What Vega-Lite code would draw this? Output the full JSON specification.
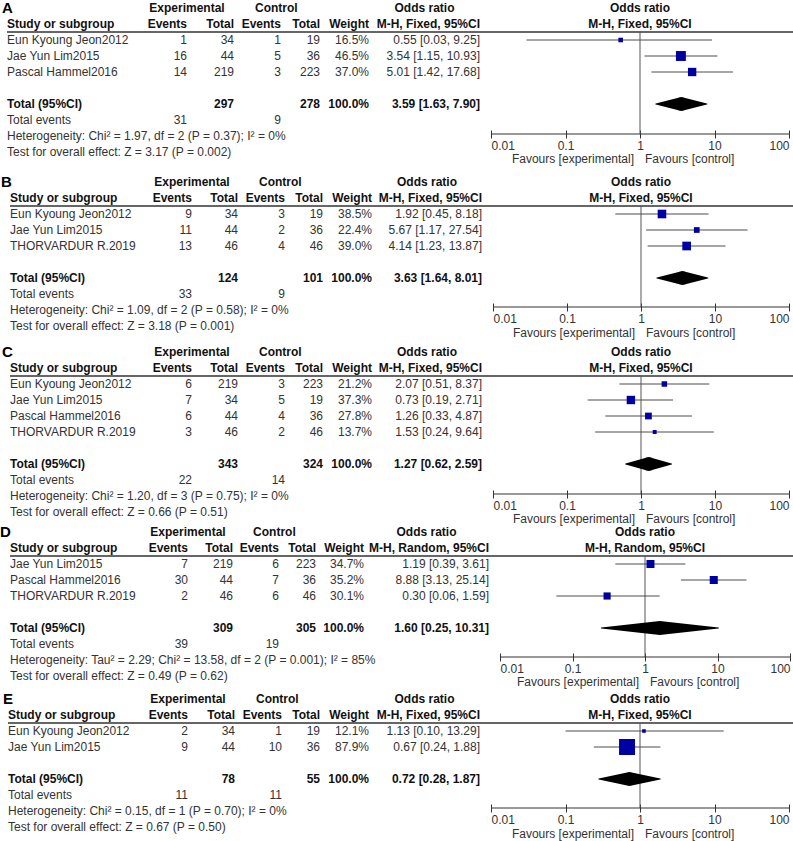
{
"$schema": "https://vega.github.io/schema/vega-lite/v6.json",
"padding": 0,
"spacing": 0,
"bounds": "flush",
"background": "white",
"config": {"view": {"stroke": null}, "text": {"font": "Liberation Sans"}, "axis": {"labelFont": "Liberation Sans"}},
"datasets": {
"cells": [
{"p":"*","r":0,"c":1,"s":"sp","t":"Experimental"},
{"p":"*","r":0,"c":2.9,"s":"sp","t":"Control"},
{"p":"*","r":0,"c":5.5,"s":"sp","t":"Odds ratio"},
{"p":"*","r":1,"c":0,"s":"h","t":"Study or subgroup"},
{"p":"*","r":1,"c":1,"s":"h","t":"Events"},
{"p":"*","r":1,"c":2,"s":"h","t":"Total"},
{"p":"*","r":1,"c":3,"s":"h","t":"Events"},
{"p":"*","r":1,"c":4,"s":"h","t":"Total"},
{"p":"*","r":1,"c":5,"s":"h","t":"Weight"},

{"p":"A","r":0,"c":-1,"s":"L","t":"A"},
{"p":"A","r":1,"c":6,"s":"h","t":"M-H, Fixed, 95%CI"},
{"p":"A","r":2,"c":0,"s":"b","t":"Eun Kyoung Jeon2012"},{"p":"A","r":2,"c":1,"s":"b","t":"1"},{"p":"A","r":2,"c":2,"s":"b","t":"34"},{"p":"A","r":2,"c":3,"s":"b","t":"1"},{"p":"A","r":2,"c":4,"s":"b","t":"19"},{"p":"A","r":2,"c":5,"s":"b","t":"16.5%"},{"p":"A","r":2,"c":6,"s":"b","t":"0.55 [0.03, 9.25]"},
{"p":"A","r":3,"c":0,"s":"b","t":"Jae Yun Lim2015"},{"p":"A","r":3,"c":1,"s":"b","t":"16"},{"p":"A","r":3,"c":2,"s":"b","t":"44"},{"p":"A","r":3,"c":3,"s":"b","t":"5"},{"p":"A","r":3,"c":4,"s":"b","t":"36"},{"p":"A","r":3,"c":5,"s":"b","t":"46.5%"},{"p":"A","r":3,"c":6,"s":"b","t":"3.54 [1.15, 10.93]"},
{"p":"A","r":4,"c":0,"s":"b","t":"Pascal Hammel2016"},{"p":"A","r":4,"c":1,"s":"b","t":"14"},{"p":"A","r":4,"c":2,"s":"b","t":"219"},{"p":"A","r":4,"c":3,"s":"b","t":"3"},{"p":"A","r":4,"c":4,"s":"b","t":"223"},{"p":"A","r":4,"c":5,"s":"b","t":"37.0%"},{"p":"A","r":4,"c":6,"s":"b","t":"5.01 [1.42, 17.68]"},
{"p":"A","r":6,"c":0,"s":"t","t":"Total (95%CI)"},{"p":"A","r":6,"c":2,"s":"t","t":"297"},{"p":"A","r":6,"c":4,"s":"t","t":"278"},{"p":"A","r":6,"c":5,"s":"t","t":"100.0%"},{"p":"A","r":6,"c":6,"s":"t","t":"3.59 [1.63, 7.90]"},
{"p":"A","r":7,"c":0,"s":"b","t":"Total events"},{"p":"A","r":7,"c":1,"s":"b","t":"31"},{"p":"A","r":7,"c":3,"s":"b","t":"9"},
{"p":"A","r":8,"c":0,"s":"b","t":"Heterogeneity: Chi² = 1.97, df = 2 (P = 0.37); I² = 0%"},
{"p":"A","r":9,"c":0,"s":"b","t":"Test for overall effect: Z = 3.17 (P = 0.002)"},

{"p":"B","r":0,"c":-1,"s":"L","t":"B"},
{"p":"B","r":1,"c":6,"s":"h","t":"M-H, Fixed, 95%CI"},
{"p":"B","r":2,"c":0,"s":"b","t":"Eun Kyoung Jeon2012"},{"p":"B","r":2,"c":1,"s":"b","t":"9"},{"p":"B","r":2,"c":2,"s":"b","t":"34"},{"p":"B","r":2,"c":3,"s":"b","t":"3"},{"p":"B","r":2,"c":4,"s":"b","t":"19"},{"p":"B","r":2,"c":5,"s":"b","t":"38.5%"},{"p":"B","r":2,"c":6,"s":"b","t":"1.92 [0.45, 8.18]"},
{"p":"B","r":3,"c":0,"s":"b","t":"Jae Yun Lim2015"},{"p":"B","r":3,"c":1,"s":"b","t":"11"},{"p":"B","r":3,"c":2,"s":"b","t":"44"},{"p":"B","r":3,"c":3,"s":"b","t":"2"},{"p":"B","r":3,"c":4,"s":"b","t":"36"},{"p":"B","r":3,"c":5,"s":"b","t":"22.4%"},{"p":"B","r":3,"c":6,"s":"b","t":"5.67 [1.17, 27.54]"},
{"p":"B","r":4,"c":0,"s":"b","t":"THORVARDUR R.2019"},{"p":"B","r":4,"c":1,"s":"b","t":"13"},{"p":"B","r":4,"c":2,"s":"b","t":"46"},{"p":"B","r":4,"c":3,"s":"b","t":"4"},{"p":"B","r":4,"c":4,"s":"b","t":"46"},{"p":"B","r":4,"c":5,"s":"b","t":"39.0%"},{"p":"B","r":4,"c":6,"s":"b","t":"4.14 [1.23, 13.87]"},
{"p":"B","r":6,"c":0,"s":"t","t":"Total (95%CI)"},{"p":"B","r":6,"c":2,"s":"t","t":"124"},{"p":"B","r":6,"c":4,"s":"t","t":"101"},{"p":"B","r":6,"c":5,"s":"t","t":"100.0%"},{"p":"B","r":6,"c":6,"s":"t","t":"3.63 [1.64, 8.01]"},
{"p":"B","r":7,"c":0,"s":"b","t":"Total events"},{"p":"B","r":7,"c":1,"s":"b","t":"33"},{"p":"B","r":7,"c":3,"s":"b","t":"9"},
{"p":"B","r":8,"c":0,"s":"b","t":"Heterogeneity: Chi² = 1.09, df = 2 (P = 0.58); I² = 0%"},
{"p":"B","r":9,"c":0,"s":"b","t":"Test for overall effect: Z = 3.18 (P = 0.001)"},

{"p":"C","r":0,"c":-1,"s":"L","t":"C"},
{"p":"C","r":1,"c":6,"s":"h","t":"M-H, Fixed, 95%CI"},
{"p":"C","r":2,"c":0,"s":"b","t":"Eun Kyoung Jeon2012"},{"p":"C","r":2,"c":1,"s":"b","t":"6"},{"p":"C","r":2,"c":2,"s":"b","t":"219"},{"p":"C","r":2,"c":3,"s":"b","t":"3"},{"p":"C","r":2,"c":4,"s":"b","t":"223"},{"p":"C","r":2,"c":5,"s":"b","t":"21.2%"},{"p":"C","r":2,"c":6,"s":"b","t":"2.07 [0.51, 8.37]"},
{"p":"C","r":3,"c":0,"s":"b","t":"Jae Yun Lim2015"},{"p":"C","r":3,"c":1,"s":"b","t":"7"},{"p":"C","r":3,"c":2,"s":"b","t":"34"},{"p":"C","r":3,"c":3,"s":"b","t":"5"},{"p":"C","r":3,"c":4,"s":"b","t":"19"},{"p":"C","r":3,"c":5,"s":"b","t":"37.3%"},{"p":"C","r":3,"c":6,"s":"b","t":"0.73 [0.19, 2.71]"},
{"p":"C","r":4,"c":0,"s":"b","t":"Pascal Hammel2016"},{"p":"C","r":4,"c":1,"s":"b","t":"6"},{"p":"C","r":4,"c":2,"s":"b","t":"44"},{"p":"C","r":4,"c":3,"s":"b","t":"4"},{"p":"C","r":4,"c":4,"s":"b","t":"36"},{"p":"C","r":4,"c":5,"s":"b","t":"27.8%"},{"p":"C","r":4,"c":6,"s":"b","t":"1.26 [0.33, 4.87]"},
{"p":"C","r":5,"c":0,"s":"b","t":"THORVARDUR R.2019"},{"p":"C","r":5,"c":1,"s":"b","t":"3"},{"p":"C","r":5,"c":2,"s":"b","t":"46"},{"p":"C","r":5,"c":3,"s":"b","t":"2"},{"p":"C","r":5,"c":4,"s":"b","t":"46"},{"p":"C","r":5,"c":5,"s":"b","t":"13.7%"},{"p":"C","r":5,"c":6,"s":"b","t":"1.53 [0.24, 9.64]"},
{"p":"C","r":7,"c":0,"s":"t","t":"Total (95%CI)"},{"p":"C","r":7,"c":2,"s":"t","t":"343"},{"p":"C","r":7,"c":4,"s":"t","t":"324"},{"p":"C","r":7,"c":5,"s":"t","t":"100.0%"},{"p":"C","r":7,"c":6,"s":"t","t":"1.27 [0.62, 2.59]"},
{"p":"C","r":8,"c":0,"s":"b","t":"Total events"},{"p":"C","r":8,"c":1,"s":"b","t":"22"},{"p":"C","r":8,"c":3,"s":"b","t":"14"},
{"p":"C","r":9,"c":0,"s":"b","t":"Heterogeneity: Chi² = 1.20, df = 3 (P = 0.75); I² = 0%"},
{"p":"C","r":10,"c":0,"s":"b","t":"Test for overall effect: Z = 0.66 (P = 0.51)"},

{"p":"D","r":0,"c":-1,"s":"L","t":"D"},
{"p":"D","r":1,"c":6,"s":"h","t":"M-H, Random, 95%CI"},
{"p":"D","r":2,"c":0,"s":"b","t":"Jae Yun Lim2015"},{"p":"D","r":2,"c":1,"s":"b","t":"7"},{"p":"D","r":2,"c":2,"s":"b","t":"219"},{"p":"D","r":2,"c":3,"s":"b","t":"6"},{"p":"D","r":2,"c":4,"s":"b","t":"223"},{"p":"D","r":2,"c":5,"s":"b","t":"34.7%"},{"p":"D","r":2,"c":6,"s":"b","t":"1.19 [0.39, 3.61]"},
{"p":"D","r":3,"c":0,"s":"b","t":"Pascal Hammel2016"},{"p":"D","r":3,"c":1,"s":"b","t":"30"},{"p":"D","r":3,"c":2,"s":"b","t":"44"},{"p":"D","r":3,"c":3,"s":"b","t":"7"},{"p":"D","r":3,"c":4,"s":"b","t":"36"},{"p":"D","r":3,"c":5,"s":"b","t":"35.2%"},{"p":"D","r":3,"c":6,"s":"b","t":"8.88 [3.13, 25.14]"},
{"p":"D","r":4,"c":0,"s":"b","t":"THORVARDUR R.2019"},{"p":"D","r":4,"c":1,"s":"b","t":"2"},{"p":"D","r":4,"c":2,"s":"b","t":"46"},{"p":"D","r":4,"c":3,"s":"b","t":"6"},{"p":"D","r":4,"c":4,"s":"b","t":"46"},{"p":"D","r":4,"c":5,"s":"b","t":"30.1%"},{"p":"D","r":4,"c":6,"s":"b","t":"0.30 [0.06, 1.59]"},
{"p":"D","r":6,"c":0,"s":"t","t":"Total (95%CI)"},{"p":"D","r":6,"c":2,"s":"t","t":"309"},{"p":"D","r":6,"c":4,"s":"t","t":"305"},{"p":"D","r":6,"c":5,"s":"t","t":"100.0%"},{"p":"D","r":6,"c":6,"s":"t","t":"1.60 [0.25, 10.31]"},
{"p":"D","r":7,"c":0,"s":"b","t":"Total events"},{"p":"D","r":7,"c":1,"s":"b","t":"39"},{"p":"D","r":7,"c":3,"s":"b","t":"19"},
{"p":"D","r":8,"c":0,"s":"b","t":"Heterogeneity: Tau² = 2.29; Chi² = 13.58, df = 2 (P = 0.001); I² = 85%"},
{"p":"D","r":9,"c":0,"s":"b","t":"Test for overall effect: Z = 0.49 (P = 0.62)"},

{"p":"E","r":0,"c":-1,"s":"L","t":"E"},
{"p":"E","r":1,"c":6,"s":"h","t":"M-H, Fixed, 95%CI"},
{"p":"E","r":2,"c":0,"s":"b","t":"Eun Kyoung Jeon2012"},{"p":"E","r":2,"c":1,"s":"b","t":"2"},{"p":"E","r":2,"c":2,"s":"b","t":"34"},{"p":"E","r":2,"c":3,"s":"b","t":"1"},{"p":"E","r":2,"c":4,"s":"b","t":"19"},{"p":"E","r":2,"c":5,"s":"b","t":"12.1%"},{"p":"E","r":2,"c":6,"s":"b","t":"1.13 [0.10, 13.29]"},
{"p":"E","r":3,"c":0,"s":"b","t":"Jae Yun Lim2015"},{"p":"E","r":3,"c":1,"s":"b","t":"9"},{"p":"E","r":3,"c":2,"s":"b","t":"44"},{"p":"E","r":3,"c":3,"s":"b","t":"10"},{"p":"E","r":3,"c":4,"s":"b","t":"36"},{"p":"E","r":3,"c":5,"s":"b","t":"87.9%"},{"p":"E","r":3,"c":6,"s":"b","t":"0.67 [0.24, 1.88]"},
{"p":"E","r":5,"c":0,"s":"t","t":"Total (95%CI)"},{"p":"E","r":5,"c":2,"s":"t","t":"78"},{"p":"E","r":5,"c":4,"s":"t","t":"55"},{"p":"E","r":5,"c":5,"s":"t","t":"100.0%"},{"p":"E","r":5,"c":6,"s":"t","t":"0.72 [0.28, 1.87]"},
{"p":"E","r":6,"c":0,"s":"b","t":"Total events"},{"p":"E","r":6,"c":1,"s":"b","t":"11"},{"p":"E","r":6,"c":3,"s":"b","t":"11"},
{"p":"E","r":7,"c":0,"s":"b","t":"Heterogeneity: Chi² = 0.15, df = 1 (P = 0.70); I² = 0%"},
{"p":"E","r":8,"c":0,"s":"b","t":"Test for overall effect: Z = 0.67 (P = 0.50)"}
],
"fp": [
{"p":"A","r":2,"or":0.55,"lo":0.03,"hi":9.25,"w":16.5},
{"p":"A","r":3,"or":3.54,"lo":1.15,"hi":10.93,"w":46.5},
{"p":"A","r":4,"or":5.01,"lo":1.42,"hi":17.68,"w":37.0},
{"p":"B","r":2,"or":1.92,"lo":0.45,"hi":8.18,"w":38.5},
{"p":"B","r":3,"or":5.67,"lo":1.17,"hi":27.54,"w":22.4},
{"p":"B","r":4,"or":4.14,"lo":1.23,"hi":13.87,"w":39.0},
{"p":"C","r":2,"or":2.07,"lo":0.51,"hi":8.37,"w":21.2},
{"p":"C","r":3,"or":0.73,"lo":0.19,"hi":2.71,"w":37.3},
{"p":"C","r":4,"or":1.26,"lo":0.33,"hi":4.87,"w":27.8},
{"p":"C","r":5,"or":1.53,"lo":0.24,"hi":9.64,"w":13.7},
{"p":"D","r":2,"or":1.19,"lo":0.39,"hi":3.61,"w":34.7},
{"p":"D","r":3,"or":8.88,"lo":3.13,"hi":25.14,"w":35.2},
{"p":"D","r":4,"or":0.30,"lo":0.06,"hi":1.59,"w":30.1},
{"p":"E","r":2,"or":1.13,"lo":0.10,"hi":13.29,"w":12.1},
{"p":"E","r":3,"or":0.67,"lo":0.24,"hi":1.88,"w":87.9}
],
"tot": [
{"p":"A","r":6,"or":3.59,"lo":1.63,"hi":7.90},
{"p":"B","r":6,"or":3.63,"lo":1.64,"hi":8.01},
{"p":"C","r":7,"or":1.27,"lo":0.62,"hi":2.59},
{"p":"D","r":6,"or":1.60,"lo":0.25,"hi":10.31},
{"p":"E","r":5,"or":0.72,"lo":0.28,"hi":1.87}
]
},
"vconcat": [
{
"width": 793, "height": 174,
"resolve": {"scale": {"x": "independent"}},
"layer": [
{
"data": {"name": "cells"},
"transform": [{"filter": "datum.p === 'A' || datum.p === '*'"}],
"encoding": {
"x": {"field": "c", "type": "quantitative", "axis": null, "scale": {"domain": [-1,0,1,2,3,4,5,6,7], "range": [2,7,187,234,281,320,369,480,793], "nice": false, "zero": false}},
"y": {"field": "r", "type": "quantitative", "axis": null, "scale": {"domain": [-0.5, 10.375], "reverse": true, "nice": false, "zero": false}},
"text": {"field": "t"}
},
"layer": [
{"transform": [{"filter": "datum.s === 'L'"}], "mark": {"type": "text", "align": "left", "baseline": "middle", "fontSize": 15, "fontWeight": "bold", "color": "#000"}},
{"transform": [{"filter": "datum.s === 'sp'"}], "mark": {"type": "text", "align": "center", "baseline": "middle", "fontSize": 12, "fontWeight": "bold", "color": "#111"}},
{"transform": [{"filter": "(datum.s === 'h' || datum.s === 't') && datum.c === 0"}], "mark": {"type": "text", "align": "left", "baseline": "middle", "fontSize": 12, "fontWeight": "bold", "color": "#111"}},
{"transform": [{"filter": "(datum.s === 'h' || datum.s === 't') && datum.c > 0"}], "mark": {"type": "text", "align": "right", "baseline": "middle", "fontSize": 12, "fontWeight": "bold", "color": "#111"}},
{"transform": [{"filter": "datum.s === 'b' && datum.c === 0"}], "mark": {"type": "text", "align": "left", "baseline": "middle", "fontSize": 12, "color": "#333"}},
{"transform": [{"filter": "datum.s === 'b' && datum.c > 0"}], "mark": {"type": "text", "align": "right", "baseline": "middle", "fontSize": 12, "color": "#333"}},
{"transform": [{"filter": "datum.s === 'h' && datum.c === 0"}], "mark": {"type": "rule", "color": "#333", "strokeWidth": 1.5}, "encoding": {"x": {"datum": 0, "type": "quantitative", "axis": null}, "x2": {"datum": 7}, "y": {"datum": 1.5, "type": "quantitative", "axis": null}}}
]
},
{
"layer": [
{"data": {"name": "tot"}, "transform": [{"filter": "datum.p === 'A'"}], "mark": {"type": "rule", "color": "#555", "strokeWidth": 1}, "encoding": {"x": {"datum": 1, "type": "quantitative", "title": null}, "y": {"datum": 1.5, "type": "quantitative", "axis": null}, "y2": {"datum": 7.875}}},
{"data": {"name": "tot"}, "transform": [{"filter": "datum.p === 'A'"}], "mark": {"type": "rule", "color": "#333", "strokeWidth": 1}, "encoding": {"x": {"datum": 0.01, "type": "quantitative", "title": null}, "x2": {"datum": 100}, "y": {"datum": 7.875, "type": "quantitative", "axis": null}}},
{"data": {"name": "fp"}, "transform": [{"filter": "datum.p === 'A'"}], "mark": {"type": "rule", "color": "#4d4d4d", "strokeWidth": 1},
 "encoding": {"x": {"field": "lo", "type": "quantitative", "title": null, "scale": {"type": "log", "domain": [0.01, 100], "range": [491, 789], "nice": false},
   "axis": {"orient": "bottom", "offset": -44, "values": [0.01, 0.1, 1, 10, 100], "format": "~g", "labelFlush": true, "labelFontSize": 12, "labelColor": "#333", "labelPadding": 2, "domain": false, "tickSize": 8, "tickColor": "#333", "grid": false, "labelOverlap": false}},
  "x2": {"field": "hi"}, "y": {"field": "r", "type": "quantitative", "axis": null}}},
{"data": {"name": "fp"}, "transform": [{"filter": "datum.p === 'A'"}], "mark": {"type": "point", "shape": "square", "filled": true, "color": "#0000A0", "opacity": 1, "strokeWidth": 0},
 "encoding": {"x": {"field": "or", "type": "quantitative", "title": null}, "y": {"field": "r", "type": "quantitative", "axis": null}, "size": {"field": "w", "type": "quantitative", "legend": null, "scale": {"type": "pow", "exponent": 1.5, "domain": [0, 100], "range": [0, 310]}}}},
{"data": {"name": "tot"}, "transform": [{"filter": "datum.p === 'A'"}, {"fold": ["lo", "or", "hi"], "as": ["k", "v"]}], "mark": {"type": "trail", "color": "#000"},
 "encoding": {"x": {"field": "v", "type": "quantitative", "title": null}, "y": {"field": "r", "type": "quantitative", "axis": null}, "size": {"condition": {"test": "datum.k === 'or'", "value": 14}, "value": 0}}},
{"data": {"name": "cells"}, "transform": [{"filter": "(datum.p === '*' && datum.t === 'Odds ratio') || (datum.p === 'A' && datum.s === 'h')"}], "mark": {"type": "text", "align": "center", "baseline": "middle", "fontSize": 12, "fontWeight": "bold", "color": "#111"},
 "encoding": {"x": {"datum": 1, "type": "quantitative", "title": null}, "y": {"field": "r", "type": "quantitative", "axis": null}, "text": {"field": "t"}}},
{"data": {"name": "tot"}, "transform": [{"filter": "datum.p === 'A'"}], "mark": {"type": "text", "align": "right", "baseline": "middle", "dx": -6, "fontSize": 12, "color": "#333"},
 "encoding": {"x": {"datum": 1, "type": "quantitative", "title": null}, "y": {"datum": 9.44, "type": "quantitative", "axis": null}, "text": {"value": "Favours [experimental]"}}},
{"data": {"name": "tot"}, "transform": [{"filter": "datum.p === 'A'"}], "mark": {"type": "text", "align": "left", "baseline": "middle", "dx": 5, "fontSize": 12, "color": "#333"},
 "encoding": {"x": {"datum": 1, "type": "quantitative", "title": null}, "y": {"datum": 9.44, "type": "quantitative", "axis": null}, "text": {"value": "Favours [control]"}}}
]
}
]
},
{
"width": 793, "height": 170,
"resolve": {"scale": {"x": "independent"}},
"layer": [
{
"data": {"name": "cells"},
"transform": [{"filter": "datum.p === 'B' || datum.p === '*'"}],
"encoding": {
"x": {"field": "c", "type": "quantitative", "axis": null, "scale": {"domain": [-1,0,1,2,3,4,5,6,7], "range": [1,10,192,238,285,323,372,482,793], "nice": false, "zero": false}},
"y": {"field": "r", "type": "quantitative", "axis": null, "scale": {"domain": [-0.5, 10.125], "reverse": true, "nice": false, "zero": false}},
"text": {"field": "t"}
},
"layer": [
{"transform": [{"filter": "datum.s === 'L'"}], "mark": {"type": "text", "align": "left", "baseline": "middle", "fontSize": 15, "fontWeight": "bold", "color": "#000"}},
{"transform": [{"filter": "datum.s === 'sp'"}], "mark": {"type": "text", "align": "center", "baseline": "middle", "fontSize": 12, "fontWeight": "bold", "color": "#111"}},
{"transform": [{"filter": "(datum.s === 'h' || datum.s === 't') && datum.c === 0"}], "mark": {"type": "text", "align": "left", "baseline": "middle", "fontSize": 12, "fontWeight": "bold", "color": "#111"}},
{"transform": [{"filter": "(datum.s === 'h' || datum.s === 't') && datum.c > 0"}], "mark": {"type": "text", "align": "right", "baseline": "middle", "fontSize": 12, "fontWeight": "bold", "color": "#111"}},
{"transform": [{"filter": "datum.s === 'b' && datum.c === 0"}], "mark": {"type": "text", "align": "left", "baseline": "middle", "fontSize": 12, "color": "#333"}},
{"transform": [{"filter": "datum.s === 'b' && datum.c > 0"}], "mark": {"type": "text", "align": "right", "baseline": "middle", "fontSize": 12, "color": "#333"}},
{"transform": [{"filter": "datum.s === 'h' && datum.c === 0"}], "mark": {"type": "rule", "color": "#333", "strokeWidth": 1.5}, "encoding": {"x": {"datum": 0, "type": "quantitative", "axis": null}, "x2": {"datum": 7}, "y": {"datum": 1.5, "type": "quantitative", "axis": null}}}
]
},
{
"layer": [
{"data": {"name": "tot"}, "transform": [{"filter": "datum.p === 'B'"}], "mark": {"type": "rule", "color": "#555", "strokeWidth": 1}, "encoding": {"x": {"datum": 1, "type": "quantitative", "title": null}, "y": {"datum": 1.5, "type": "quantitative", "axis": null}, "y2": {"datum": 7.8125}}},
{"data": {"name": "tot"}, "transform": [{"filter": "datum.p === 'B'"}], "mark": {"type": "rule", "color": "#333", "strokeWidth": 1}, "encoding": {"x": {"datum": 0.01, "type": "quantitative", "title": null}, "x2": {"datum": 100}, "y": {"datum": 7.8125, "type": "quantitative", "axis": null}}},
{"data": {"name": "fp"}, "transform": [{"filter": "datum.p === 'B'"}], "mark": {"type": "rule", "color": "#4d4d4d", "strokeWidth": 1},
 "encoding": {"x": {"field": "lo", "type": "quantitative", "title": null, "scale": {"type": "log", "domain": [0.01, 100], "range": [493, 789], "nice": false},
   "axis": {"orient": "bottom", "offset": -41, "values": [0.01, 0.1, 1, 10, 100], "format": "~g", "labelFlush": true, "labelFontSize": 12, "labelColor": "#333", "labelPadding": 2, "domain": false, "tickSize": 8, "tickColor": "#333", "grid": false, "labelOverlap": false}},
  "x2": {"field": "hi"}, "y": {"field": "r", "type": "quantitative", "axis": null}}},
{"data": {"name": "fp"}, "transform": [{"filter": "datum.p === 'B'"}], "mark": {"type": "point", "shape": "square", "filled": true, "color": "#0000A0", "opacity": 1, "strokeWidth": 0},
 "encoding": {"x": {"field": "or", "type": "quantitative", "title": null}, "y": {"field": "r", "type": "quantitative", "axis": null}, "size": {"field": "w", "type": "quantitative", "legend": null, "scale": {"type": "pow", "exponent": 1.5, "domain": [0, 100], "range": [0, 310]}}}},
{"data": {"name": "tot"}, "transform": [{"filter": "datum.p === 'B'"}, {"fold": ["lo", "or", "hi"], "as": ["k", "v"]}], "mark": {"type": "trail", "color": "#000"},
 "encoding": {"x": {"field": "v", "type": "quantitative", "title": null}, "y": {"field": "r", "type": "quantitative", "axis": null}, "size": {"condition": {"test": "datum.k === 'or'", "value": 14}, "value": 0}}},
{"data": {"name": "cells"}, "transform": [{"filter": "(datum.p === '*' && datum.t === 'Odds ratio') || (datum.p === 'B' && datum.s === 'h')"}], "mark": {"type": "text", "align": "center", "baseline": "middle", "fontSize": 12, "fontWeight": "bold", "color": "#111"},
 "encoding": {"x": {"datum": 1, "type": "quantitative", "title": null}, "y": {"field": "r", "type": "quantitative", "axis": null}, "text": {"field": "t"}}},
{"data": {"name": "tot"}, "transform": [{"filter": "datum.p === 'B'"}], "mark": {"type": "text", "align": "right", "baseline": "middle", "dx": -6, "fontSize": 12, "color": "#333"},
 "encoding": {"x": {"datum": 1, "type": "quantitative", "title": null}, "y": {"datum": 9.44, "type": "quantitative", "axis": null}, "text": {"value": "Favours [experimental]"}}},
{"data": {"name": "tot"}, "transform": [{"filter": "datum.p === 'B'"}], "mark": {"type": "text", "align": "left", "baseline": "middle", "dx": 5, "fontSize": 12, "color": "#333"},
 "encoding": {"x": {"datum": 1, "type": "quantitative", "title": null}, "y": {"datum": 9.44, "type": "quantitative", "axis": null}, "text": {"value": "Favours [control]"}}}
]
}
]
},
{
"width": 793, "height": 180,
"resolve": {"scale": {"x": "independent"}},
"layer": [
{
"data": {"name": "cells"},
"transform": [{"filter": "datum.p === 'C' || datum.p === '*'"}],
"encoding": {
"x": {"field": "c", "type": "quantitative", "axis": null, "scale": {"domain": [-1,0,1,2,3,4,5,6,7], "range": [2,10,192,238,285,323,372,482,793], "nice": false, "zero": false}},
"y": {"field": "r", "type": "quantitative", "axis": null, "scale": {"domain": [-0.5, 10.75], "reverse": true, "nice": false, "zero": false}},
"text": {"field": "t"}
},
"layer": [
{"transform": [{"filter": "datum.s === 'L'"}], "mark": {"type": "text", "align": "left", "baseline": "middle", "fontSize": 15, "fontWeight": "bold", "color": "#000"}},
{"transform": [{"filter": "datum.s === 'sp'"}], "mark": {"type": "text", "align": "center", "baseline": "middle", "fontSize": 12, "fontWeight": "bold", "color": "#111"}},
{"transform": [{"filter": "(datum.s === 'h' || datum.s === 't') && datum.c === 0"}], "mark": {"type": "text", "align": "left", "baseline": "middle", "fontSize": 12, "fontWeight": "bold", "color": "#111"}},
{"transform": [{"filter": "(datum.s === 'h' || datum.s === 't') && datum.c > 0"}], "mark": {"type": "text", "align": "right", "baseline": "middle", "fontSize": 12, "fontWeight": "bold", "color": "#111"}},
{"transform": [{"filter": "datum.s === 'b' && datum.c === 0"}], "mark": {"type": "text", "align": "left", "baseline": "middle", "fontSize": 12, "color": "#333"}},
{"transform": [{"filter": "datum.s === 'b' && datum.c > 0"}], "mark": {"type": "text", "align": "right", "baseline": "middle", "fontSize": 12, "color": "#333"}},
{"transform": [{"filter": "datum.s === 'h' && datum.c === 0"}], "mark": {"type": "rule", "color": "#333", "strokeWidth": 1.5}, "encoding": {"x": {"datum": 0, "type": "quantitative", "axis": null}, "x2": {"datum": 7}, "y": {"datum": 1.5, "type": "quantitative", "axis": null}}}
]
},
{
"layer": [
{"data": {"name": "tot"}, "transform": [{"filter": "datum.p === 'C'"}], "mark": {"type": "rule", "color": "#555", "strokeWidth": 1}, "encoding": {"x": {"datum": 1, "type": "quantitative", "title": null}, "y": {"datum": 1.5, "type": "quantitative", "axis": null}, "y2": {"datum": 8.875}}},
{"data": {"name": "tot"}, "transform": [{"filter": "datum.p === 'C'"}], "mark": {"type": "rule", "color": "#333", "strokeWidth": 1}, "encoding": {"x": {"datum": 0.01, "type": "quantitative", "title": null}, "x2": {"datum": 100}, "y": {"datum": 8.875, "type": "quantitative", "axis": null}}},
{"data": {"name": "fp"}, "transform": [{"filter": "datum.p === 'C'"}], "mark": {"type": "rule", "color": "#4d4d4d", "strokeWidth": 1},
 "encoding": {"x": {"field": "lo", "type": "quantitative", "title": null, "scale": {"type": "log", "domain": [0.01, 100], "range": [493, 789], "nice": false},
   "axis": {"orient": "bottom", "offset": -34, "values": [0.01, 0.1, 1, 10, 100], "format": "~g", "labelFlush": true, "labelFontSize": 12, "labelColor": "#333", "labelPadding": 2, "domain": false, "tickSize": 8, "tickColor": "#333", "grid": false, "labelOverlap": false}},
  "x2": {"field": "hi"}, "y": {"field": "r", "type": "quantitative", "axis": null}}},
{"data": {"name": "fp"}, "transform": [{"filter": "datum.p === 'C'"}], "mark": {"type": "point", "shape": "square", "filled": true, "color": "#0000A0", "opacity": 1, "strokeWidth": 0},
 "encoding": {"x": {"field": "or", "type": "quantitative", "title": null}, "y": {"field": "r", "type": "quantitative", "axis": null}, "size": {"field": "w", "type": "quantitative", "legend": null, "scale": {"type": "pow", "exponent": 1.5, "domain": [0, 100], "range": [0, 310]}}}},
{"data": {"name": "tot"}, "transform": [{"filter": "datum.p === 'C'"}, {"fold": ["lo", "or", "hi"], "as": ["k", "v"]}], "mark": {"type": "trail", "color": "#000"},
 "encoding": {"x": {"field": "v", "type": "quantitative", "title": null}, "y": {"field": "r", "type": "quantitative", "axis": null}, "size": {"condition": {"test": "datum.k === 'or'", "value": 14}, "value": 0}}},
{"data": {"name": "cells"}, "transform": [{"filter": "(datum.p === '*' && datum.t === 'Odds ratio') || (datum.p === 'C' && datum.s === 'h')"}], "mark": {"type": "text", "align": "center", "baseline": "middle", "fontSize": 12, "fontWeight": "bold", "color": "#111"},
 "encoding": {"x": {"datum": 1, "type": "quantitative", "title": null}, "y": {"field": "r", "type": "quantitative", "axis": null}, "text": {"field": "t"}}},
{"data": {"name": "tot"}, "transform": [{"filter": "datum.p === 'C'"}], "mark": {"type": "text", "align": "right", "baseline": "middle", "dx": -6, "fontSize": 12, "color": "#333"},
 "encoding": {"x": {"datum": 1, "type": "quantitative", "title": null}, "y": {"datum": 10.44, "type": "quantitative", "axis": null}, "text": {"value": "Favours [experimental]"}}},
{"data": {"name": "tot"}, "transform": [{"filter": "datum.p === 'C'"}], "mark": {"type": "text", "align": "left", "baseline": "middle", "dx": 5, "fontSize": 12, "color": "#333"},
 "encoding": {"x": {"datum": 1, "type": "quantitative", "title": null}, "y": {"datum": 10.44, "type": "quantitative", "axis": null}, "text": {"value": "Favours [control]"}}}
]
}
]
},
{
"width": 793, "height": 167,
"resolve": {"scale": {"x": "independent"}},
"layer": [
{
"data": {"name": "cells"},
"transform": [{"filter": "datum.p === 'D' || datum.p === '*'"}],
"encoding": {
"x": {"field": "c", "type": "quantitative", "axis": null, "scale": {"domain": [-1,0,1,2,3,4,5,6,7], "range": [0,10,188,233,279,316,364,489,793], "nice": false, "zero": false}},
"y": {"field": "r", "type": "quantitative", "axis": null, "scale": {"domain": [-0.5, 9.9375], "reverse": true, "nice": false, "zero": false}},
"text": {"field": "t"}
},
"layer": [
{"transform": [{"filter": "datum.s === 'L'"}], "mark": {"type": "text", "align": "left", "baseline": "middle", "fontSize": 15, "fontWeight": "bold", "color": "#000"}},
{"transform": [{"filter": "datum.s === 'sp'"}], "mark": {"type": "text", "align": "center", "baseline": "middle", "fontSize": 12, "fontWeight": "bold", "color": "#111"}},
{"transform": [{"filter": "(datum.s === 'h' || datum.s === 't') && datum.c === 0"}], "mark": {"type": "text", "align": "left", "baseline": "middle", "fontSize": 12, "fontWeight": "bold", "color": "#111"}},
{"transform": [{"filter": "(datum.s === 'h' || datum.s === 't') && datum.c > 0"}], "mark": {"type": "text", "align": "right", "baseline": "middle", "fontSize": 12, "fontWeight": "bold", "color": "#111"}},
{"transform": [{"filter": "datum.s === 'b' && datum.c === 0"}], "mark": {"type": "text", "align": "left", "baseline": "middle", "fontSize": 12, "color": "#333"}},
{"transform": [{"filter": "datum.s === 'b' && datum.c > 0"}], "mark": {"type": "text", "align": "right", "baseline": "middle", "fontSize": 12, "color": "#333"}},
{"transform": [{"filter": "datum.s === 'h' && datum.c === 0"}], "mark": {"type": "rule", "color": "#333", "strokeWidth": 1.5}, "encoding": {"x": {"datum": 0, "type": "quantitative", "axis": null}, "x2": {"datum": 7}, "y": {"datum": 1.5, "type": "quantitative", "axis": null}}}
]
},
{
"layer": [
{"data": {"name": "tot"}, "transform": [{"filter": "datum.p === 'D'"}], "mark": {"type": "rule", "color": "#555", "strokeWidth": 1}, "encoding": {"x": {"datum": 1, "type": "quantitative", "title": null}, "y": {"datum": 1.5, "type": "quantitative", "axis": null}, "y2": {"datum": 7.8125}}},
{"data": {"name": "tot"}, "transform": [{"filter": "datum.p === 'D'"}], "mark": {"type": "rule", "color": "#333", "strokeWidth": 1}, "encoding": {"x": {"datum": 0.01, "type": "quantitative", "title": null}, "x2": {"datum": 100}, "y": {"datum": 7.8125, "type": "quantitative", "axis": null}}},
{"data": {"name": "fp"}, "transform": [{"filter": "datum.p === 'D'"}], "mark": {"type": "rule", "color": "#4d4d4d", "strokeWidth": 1},
 "encoding": {"x": {"field": "lo", "type": "quantitative", "title": null, "scale": {"type": "log", "domain": [0.01, 100], "range": [500, 790], "nice": false},
   "axis": {"orient": "bottom", "offset": -38, "values": [0.01, 0.1, 1, 10, 100], "format": "~g", "labelFlush": true, "labelFontSize": 12, "labelColor": "#333", "labelPadding": 2, "domain": false, "tickSize": 8, "tickColor": "#333", "grid": false, "labelOverlap": false}},
  "x2": {"field": "hi"}, "y": {"field": "r", "type": "quantitative", "axis": null}}},
{"data": {"name": "fp"}, "transform": [{"filter": "datum.p === 'D'"}], "mark": {"type": "point", "shape": "square", "filled": true, "color": "#0000A0", "opacity": 1, "strokeWidth": 0},
 "encoding": {"x": {"field": "or", "type": "quantitative", "title": null}, "y": {"field": "r", "type": "quantitative", "axis": null}, "size": {"field": "w", "type": "quantitative", "legend": null, "scale": {"type": "pow", "exponent": 1.5, "domain": [0, 100], "range": [0, 310]}}}},
{"data": {"name": "tot"}, "transform": [{"filter": "datum.p === 'D'"}, {"fold": ["lo", "or", "hi"], "as": ["k", "v"]}], "mark": {"type": "trail", "color": "#000"},
 "encoding": {"x": {"field": "v", "type": "quantitative", "title": null}, "y": {"field": "r", "type": "quantitative", "axis": null}, "size": {"condition": {"test": "datum.k === 'or'", "value": 14}, "value": 0}}},
{"data": {"name": "cells"}, "transform": [{"filter": "(datum.p === '*' && datum.t === 'Odds ratio') || (datum.p === 'D' && datum.s === 'h')"}], "mark": {"type": "text", "align": "center", "baseline": "middle", "fontSize": 12, "fontWeight": "bold", "color": "#111"},
 "encoding": {"x": {"datum": 1, "type": "quantitative", "title": null}, "y": {"field": "r", "type": "quantitative", "axis": null}, "text": {"field": "t"}}},
{"data": {"name": "tot"}, "transform": [{"filter": "datum.p === 'D'"}], "mark": {"type": "text", "align": "right", "baseline": "middle", "dx": -6, "fontSize": 12, "color": "#333"},
 "encoding": {"x": {"datum": 1, "type": "quantitative", "title": null}, "y": {"datum": 9.375, "type": "quantitative", "axis": null}, "text": {"value": "Favours [experimental]"}}},
{"data": {"name": "tot"}, "transform": [{"filter": "datum.p === 'D'"}], "mark": {"type": "text", "align": "left", "baseline": "middle", "dx": 5, "fontSize": 12, "color": "#333"},
 "encoding": {"x": {"datum": 1, "type": "quantitative", "title": null}, "y": {"datum": 9.375, "type": "quantitative", "axis": null}, "text": {"value": "Favours [control]"}}}
]
}
]
},
{
"width": 793, "height": 150,
"resolve": {"scale": {"x": "independent"}},
"layer": [
{
"data": {"name": "cells"},
"transform": [{"filter": "datum.p === 'E' || datum.p === '*'"}],
"encoding": {
"x": {"field": "c", "type": "quantitative", "axis": null, "scale": {"domain": [-1,0,1,2,3,4,5,6,7], "range": [3,8,188,235,282,320,369,480,793], "nice": false, "zero": false}},
"y": {"field": "r", "type": "quantitative", "axis": null, "scale": {"domain": [-0.5, 8.875], "reverse": true, "nice": false, "zero": false}},
"text": {"field": "t"}
},
"layer": [
{"transform": [{"filter": "datum.s === 'L'"}], "mark": {"type": "text", "align": "left", "baseline": "middle", "fontSize": 15, "fontWeight": "bold", "color": "#000"}},
{"transform": [{"filter": "datum.s === 'sp'"}], "mark": {"type": "text", "align": "center", "baseline": "middle", "fontSize": 12, "fontWeight": "bold", "color": "#111"}},
{"transform": [{"filter": "(datum.s === 'h' || datum.s === 't') && datum.c === 0"}], "mark": {"type": "text", "align": "left", "baseline": "middle", "fontSize": 12, "fontWeight": "bold", "color": "#111"}},
{"transform": [{"filter": "(datum.s === 'h' || datum.s === 't') && datum.c > 0"}], "mark": {"type": "text", "align": "right", "baseline": "middle", "fontSize": 12, "fontWeight": "bold", "color": "#111"}},
{"transform": [{"filter": "datum.s === 'b' && datum.c === 0"}], "mark": {"type": "text", "align": "left", "baseline": "middle", "fontSize": 12, "color": "#333"}},
{"transform": [{"filter": "datum.s === 'b' && datum.c > 0"}], "mark": {"type": "text", "align": "right", "baseline": "middle", "fontSize": 12, "color": "#333"}},
{"transform": [{"filter": "datum.s === 'h' && datum.c === 0"}], "mark": {"type": "rule", "color": "#333", "strokeWidth": 1.5}, "encoding": {"x": {"datum": 0, "type": "quantitative", "axis": null}, "x2": {"datum": 7}, "y": {"datum": 1.5, "type": "quantitative", "axis": null}}}
]
},
{
"layer": [
{"data": {"name": "tot"}, "transform": [{"filter": "datum.p === 'E'"}], "mark": {"type": "rule", "color": "#555", "strokeWidth": 1}, "encoding": {"x": {"datum": 1, "type": "quantitative", "title": null}, "y": {"datum": 1.5, "type": "quantitative", "axis": null}, "y2": {"datum": 6.8125}}},
{"data": {"name": "tot"}, "transform": [{"filter": "datum.p === 'E'"}], "mark": {"type": "rule", "color": "#333", "strokeWidth": 1}, "encoding": {"x": {"datum": 0.01, "type": "quantitative", "title": null}, "x2": {"datum": 100}, "y": {"datum": 6.8125, "type": "quantitative", "axis": null}}},
{"data": {"name": "fp"}, "transform": [{"filter": "datum.p === 'E'"}], "mark": {"type": "rule", "color": "#4d4d4d", "strokeWidth": 1},
 "encoding": {"x": {"field": "lo", "type": "quantitative", "title": null, "scale": {"type": "log", "domain": [0.01, 100], "range": [491, 789], "nice": false},
   "axis": {"orient": "bottom", "offset": -37, "values": [0.01, 0.1, 1, 10, 100], "format": "~g", "labelFlush": true, "labelFontSize": 12, "labelColor": "#333", "labelPadding": 2, "domain": false, "tickSize": 8, "tickColor": "#333", "grid": false, "labelOverlap": false}},
  "x2": {"field": "hi"}, "y": {"field": "r", "type": "quantitative", "axis": null}}},
{"data": {"name": "fp"}, "transform": [{"filter": "datum.p === 'E'"}], "mark": {"type": "point", "shape": "square", "filled": true, "color": "#0000A0", "opacity": 1, "strokeWidth": 0},
 "encoding": {"x": {"field": "or", "type": "quantitative", "title": null}, "y": {"field": "r", "type": "quantitative", "axis": null}, "size": {"field": "w", "type": "quantitative", "legend": null, "scale": {"type": "pow", "exponent": 1.5, "domain": [0, 100], "range": [0, 310]}}}},
{"data": {"name": "tot"}, "transform": [{"filter": "datum.p === 'E'"}, {"fold": ["lo", "or", "hi"], "as": ["k", "v"]}], "mark": {"type": "trail", "color": "#000"},
 "encoding": {"x": {"field": "v", "type": "quantitative", "title": null}, "y": {"field": "r", "type": "quantitative", "axis": null}, "size": {"condition": {"test": "datum.k === 'or'", "value": 14}, "value": 0}}},
{"data": {"name": "cells"}, "transform": [{"filter": "(datum.p === '*' && datum.t === 'Odds ratio') || (datum.p === 'E' && datum.s === 'h')"}], "mark": {"type": "text", "align": "center", "baseline": "middle", "fontSize": 12, "fontWeight": "bold", "color": "#111"},
 "encoding": {"x": {"datum": 1, "type": "quantitative", "title": null}, "y": {"field": "r", "type": "quantitative", "axis": null}, "text": {"field": "t"}}},
{"data": {"name": "tot"}, "transform": [{"filter": "datum.p === 'E'"}], "mark": {"type": "text", "align": "right", "baseline": "middle", "dx": -6, "fontSize": 12, "color": "#333"},
 "encoding": {"x": {"datum": 1, "type": "quantitative", "title": null}, "y": {"datum": 8.44, "type": "quantitative", "axis": null}, "text": {"value": "Favours [experimental]"}}},
{"data": {"name": "tot"}, "transform": [{"filter": "datum.p === 'E'"}], "mark": {"type": "text", "align": "left", "baseline": "middle", "dx": 5, "fontSize": 12, "color": "#333"},
 "encoding": {"x": {"datum": 1, "type": "quantitative", "title": null}, "y": {"datum": 8.44, "type": "quantitative", "axis": null}, "text": {"value": "Favours [control]"}}}
]
}
]
}
]
}
